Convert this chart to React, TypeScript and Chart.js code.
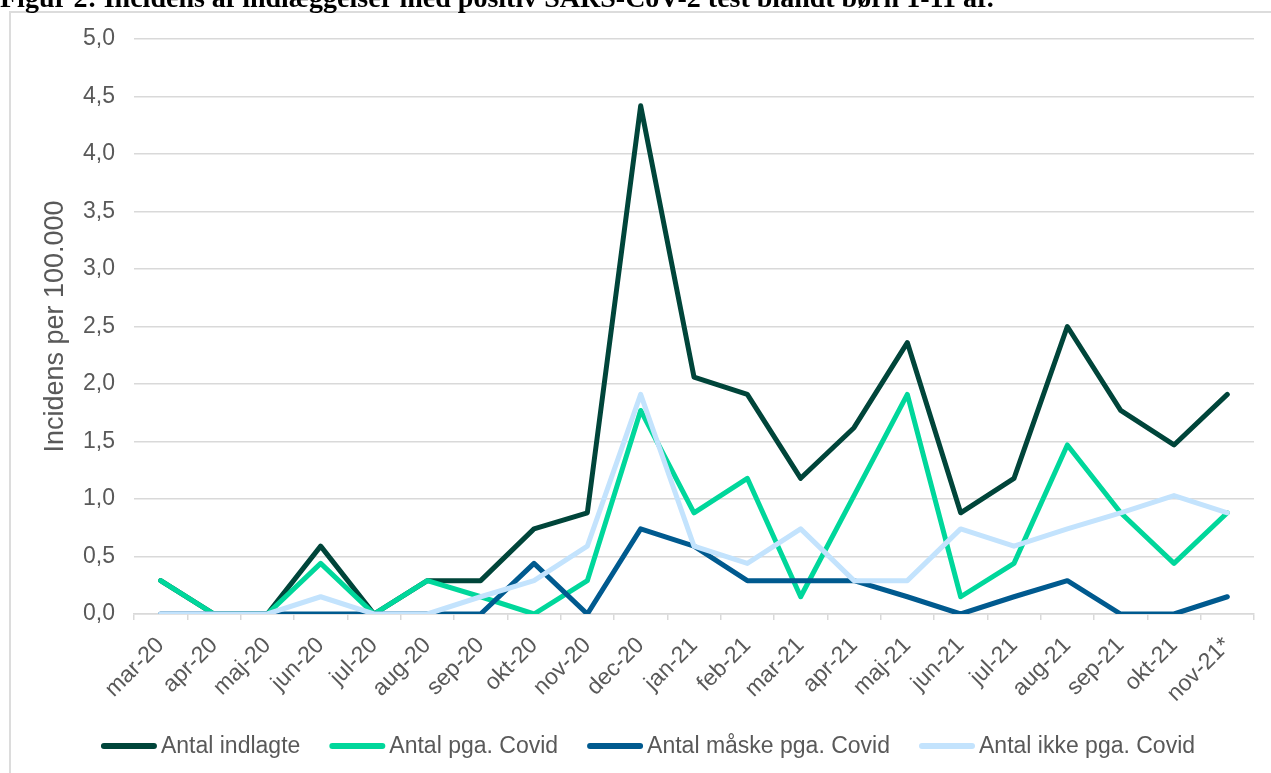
import { useEffect, useRef } from "react";
import { Chart, registerables } from "chart.js";

Chart.register(...registerables);

// Months on the category axis (nov-21 is a partial month)
const months = [
  "mar-20", "apr-20", "maj-20", "jun-20", "jul-20", "aug-20", "sep-20",
  "okt-20", "nov-20", "dec-20", "jan-21", "feb-21", "mar-21", "apr-21",
  "maj-21", "jun-21", "jul-21", "aug-21", "sep-21", "okt-21", "nov-21*",
];

// Incidence per 100.000 children aged 1-11
const antalIndlagte = [
  0.29, 0, 0, 0.59, 0, 0.29, 0.29, 0.74, 0.88, 4.42, 2.06,
  1.91, 1.18, 1.62, 2.36, 0.88, 1.18, 2.5, 1.77, 1.47, 1.91,
];
const antalPgaCovid = [
  0.29, 0, 0, 0.44, 0, 0.29, 0.15, 0, 0.29, 1.77, 0.88,
  1.18, 0.15, 1.03, 1.91, 0.15, 0.44, 1.47, 0.88, 0.44, 0.88,
];
const antalMaaskePgaCovid = [
  0, 0, 0, 0, 0, 0, 0, 0.44, 0, 0.74, 0.59,
  0.29, 0.29, 0.29, 0.15, 0, 0.15, 0.29, 0, 0, 0.15,
];
const antalIkkePgaCovid = [
  0, 0, 0, 0.15, 0, 0, 0.15, 0.29, 0.59, 1.91, 0.59,
  0.44, 0.74, 0.29, 0.29, 0.74, 0.59, 0.74, 0.88, 1.03, 0.88,
];

const seriesLabels = [
  "Antal indlagte",
  "Antal pga. Covid",
  "Antal måske pga. Covid",
  "Antal ikke pga. Covid",
];

const yMin = 0;
const yMax = 5;
const yStep = 0.5;

const titleText =
  "Figur 2: Incidens af indlæggelser med positiv SARS-CoV-2 test blandt børn 1-11 år.";
const yAxisTitle = "Incidens per 100.000";

const SANS = '"Liberation Sans", Arial, sans-serif';
const TEXT_GREY = "#595959";
const GRID_GREY = "#D9D9D9";

// Legend with long line swatches placed close to their labels
const lineLegend = {
  id: "lineLegend",
  afterDraw(chart: any, _args: any, opts: any) {
    const ctx = chart.ctx as CanvasRenderingContext2D;
    ctx.save();
    ctx.font = `${opts.fontSize}px ${SANS}`;
    const items = chart.data.datasets.map((ds: any) => ({
      label: ds.label as string,
      color: ds.borderColor as string,
      w: ctx.measureText(ds.label).width,
    }));
    const total =
      items.reduce((s: number, it: any) => s + opts.swatch + opts.gap + it.w, 0) +
      opts.spacing * (items.length - 1);
    let x = opts.centerX - total / 2;
    const y = opts.y;
    for (const it of items) {
      ctx.strokeStyle = it.color;
      ctx.lineWidth = opts.lineWidth;
      ctx.lineCap = "round";
      ctx.beginPath();
      ctx.moveTo(x + opts.lineWidth / 2, y);
      ctx.lineTo(x + opts.swatch - opts.lineWidth / 2, y);
      ctx.stroke();
      x += opts.swatch + opts.gap;
      ctx.fillStyle = TEXT_GREY;
      ctx.textBaseline = "middle";
      ctx.textAlign = "left";
      ctx.fillText(it.label, x, y + 1);
      x += it.w + opts.spacing;
    }
    ctx.restore();
  },
};

export default function App() {
  const canvasRef = useRef<HTMLCanvasElement | null>(null);

  useEffect(() => {
    const canvas = canvasRef.current;
    if (!canvas) return;

    const colors = ["#00453A", "#00D79B", "#005A8F", "#C3E3FD"];
    const values = [antalIndlagte, antalPgaCovid, antalMaaskePgaCovid, antalIkkePgaCovid];

    const chart = new Chart(canvas, {
      type: "line",
      data: {
        labels: months,
        datasets: values.map((v, i) => ({
          label: seriesLabels[i],
          data: v,
          borderColor: colors[i],
          backgroundColor: colors[i],
          borderWidth: 5,
          borderCapStyle: "round",
          borderJoinStyle: "round",
          pointRadius: 0,
          pointHoverRadius: 0,
          tension: 0,
          fill: false,
          // later series are painted over earlier ones
          order: values.length - i,
        })),
      },
      options: {
        responsive: false,
        animation: false,
        devicePixelRatio: 1,
        layout: { padding: { top: 39, right: 17, left: 0, bottom: 0 } },
        plugins: {
          legend: { display: false },
          tooltip: { enabled: false },
          title: { display: false },
          lineLegend: {
            fontSize: 23,
            swatch: 56,
            gap: 4,
            spacing: 29,
            lineWidth: 6,
            centerX: 648,
            y: 746,
          },
        } as any,
        scales: {
          x: {
            offset: true,
            grid: {
              offset: true,
              drawOnChartArea: false,
              drawTicks: true,
              tickLength: 6,
              color: GRID_GREY,
              lineWidth: 1.5,
            },
            border: { display: true, color: GRID_GREY, width: 1.5 },
            ticks: {
              autoSkip: false,
              minRotation: 45,
              maxRotation: 45,
              padding: 12,
              color: TEXT_GREY,
              font: { family: SANS, size: 23 },
            },
            afterFit: (s: any) => {
              s.height = 159;
            },
          },
          y: {
            min: yMin,
            max: yMax,
            ticks: {
              stepSize: yStep,
              padding: 19,
              color: TEXT_GREY,
              font: { family: SANS, size: 23 },
              callback: (v: any) => Number(v).toFixed(1).replace(".", ","),
            },
            grid: { color: GRID_GREY, lineWidth: 1.5, drawTicks: false },
            border: { display: false },
            title: {
              display: true,
              text: yAxisTitle,
              color: TEXT_GREY,
              font: { family: SANS, size: 27 },
              padding: { top: 39, bottom: 0 },
            },
            afterFit: (s: any) => {
              s.width = 134;
            },
          },
        },
      },
      plugins: [lineLegend],
    });

    return () => chart.destroy();
  }, []);

  return (
    <div
      style={{
        position: "fixed",
        left: 0,
        top: 0,
        width: 1271,
        height: 773,
        overflow: "hidden",
        background: "#ffffff",
      }}
    >
      <div
        style={{
          position: "absolute",
          left: 9,
          top: 11,
          width: 1300,
          height: 820,
          border: "2px solid #DCDCDC",
          boxSizing: "border-box",
        }}
      />
      <canvas
        ref={canvasRef}
        width={1271}
        height={773}
        style={{ position: "absolute", left: 0, top: 0, display: "block" }}
      />
      <div
        style={{
          position: "absolute",
          left: 0,
          top: -16,
          font: 'bold 28px "Liberation Serif", "Times New Roman", serif',
          lineHeight: "28px",
          whiteSpace: "nowrap",
          color: "#000000",
        }}
      >
        {titleText}
      </div>
    </div>
  );
}
